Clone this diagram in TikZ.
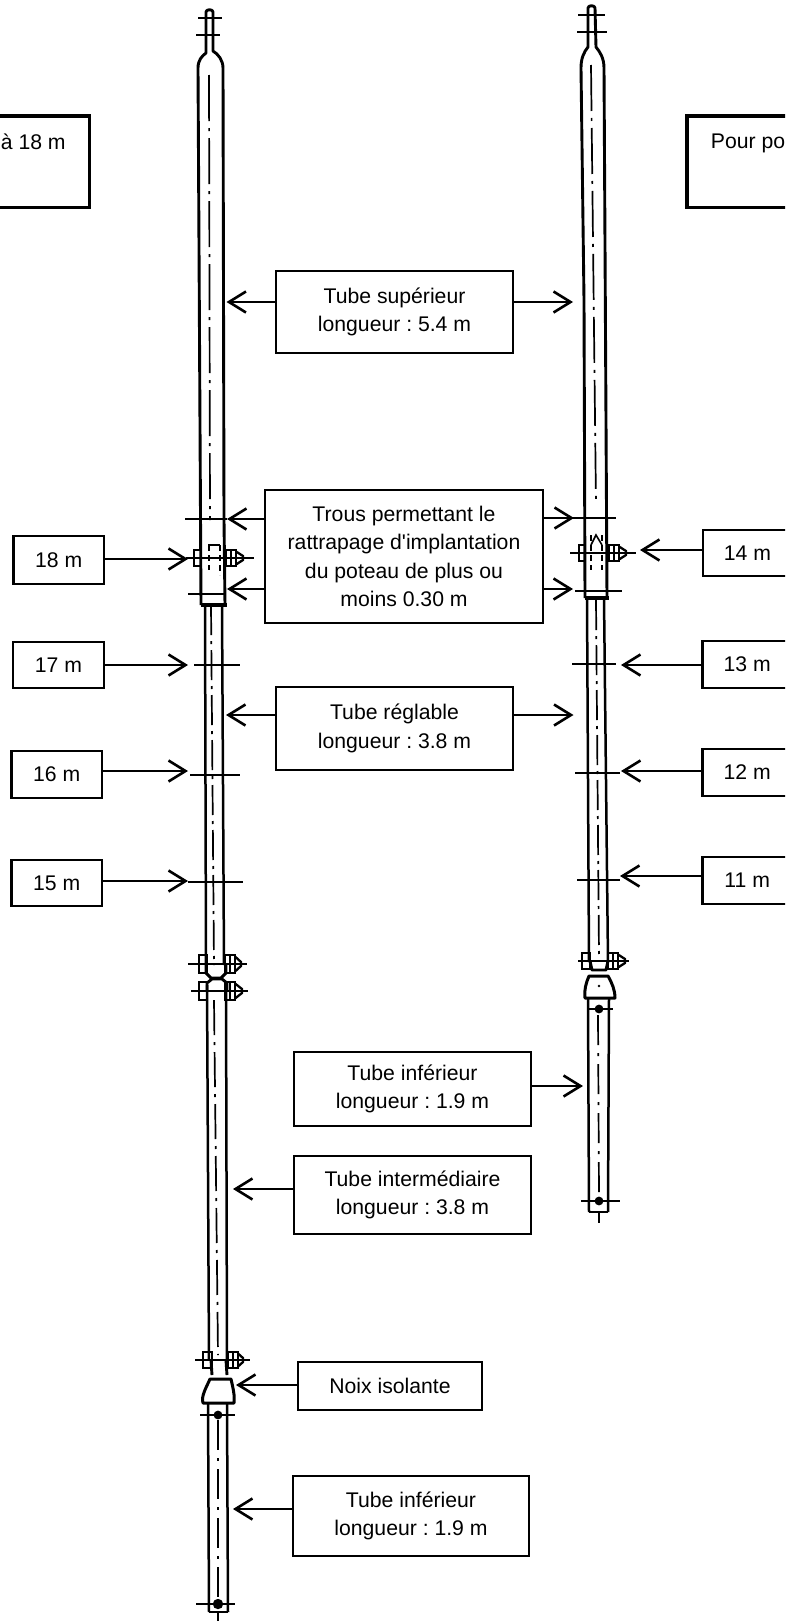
\documentclass[tikz,border=0pt]{standalone}
\usepackage{fontspec}
\setmainfont{Liberation Sans}
\newfontfamily\lblfont{Liberation Sans}
\usetikzlibrary{arrows.meta}
\tikzset{
  lbl/.style={draw=black,line width=2.6pt,fill=white,inner sep=0pt,align=center,font=\lblfont\fontsize{21.2}{28.5}\selectfont\frenchspacing},
  heavybox/.style={lbl,line width=3.2pt},
  conn/.style={line width=2.8pt,-{Straight Barb[length=17pt,width=21pt,line width=2.6pt]}},
  wall/.style={line width=2.9pt,line join=round},
  thin wall/.style={line width=2.5pt,line join=round},
  axis/.style={line width=1.7pt,dash pattern=on 46pt off 7pt on 3pt off 7pt},
  bar/.style={line width=1.9pt},
  nut/.style={line width=2.3pt},
  hole/.style={fill=black,draw=none}
}
\newcommand{\mybox}[7][lbl]{% style, name, x1,y1,x2,y2, text
  \node[#1,minimum width={(#5)-(#3)},minimum height={(#6)-(#4)}] (#2) at ({((#3)+(#5))/2},{((#4)+(#6))/2}) {#7};}
\newcommand{\clampbolt}[9]{% y, barL, barR, nutL1, nutL2, nutR1, nutR2, tip, half height
  \draw[bar] (#2,#1) -- (#3,#1);
  \draw[nut] (#4,{#1-#9}) rectangle (#5,{#1+#9});
  \draw[nut] (#6,{#1-#9}) rectangle (#7,{#1+#9});
  \draw[nut] (#7,{#1-#9+1.5}) -- (#8,{#1-2}) -- (#8,{#1+2}) -- (#7,{#1+#9-1.5});
  \draw[nut] ({(#6+#7)/2},{#1-#9}) -- ({(#6+#7)/2},{#1+#9});
}
\begin{document}
\begin{tikzpicture}[x=1pt,y=-1pt]
\useasboundingbox (0,0) rectangle (785,1622);
\clip (0,0) rectangle (785,1622);
\fill[white] (0,0) rectangle (785,1622);

% ---------- left pole ----------
% top stem and upper tube
\draw[wall] (201,605) -- (198,68) .. controls (198,60) and (202,56) .. (206,53) -- (206,12) .. controls (206,9) and (213,9) .. (213,12) -- (213,51) .. controls (218,54) and (223,60) .. (223,68) -- (224,520);
\draw[wall] (224,520) -- (225,605);
\draw[bar,line width=2.2pt] (198,18) -- (222,18);
\draw[bar,line width=2.2pt] (196,35) -- (220,35);
\draw[axis] (209,75) -- (210,520);
% top collar
\draw[wall,line width=3.2pt] (201,605) -- (227,605);
\draw[bar] (185,519) -- (227,519);
\draw[bar] (188,594) -- (225,594);
\draw[line width=1.6pt,dash pattern=on 6pt off 4pt] (209,545) -- (209,570);
\draw[line width=1.6pt,dash pattern=on 6pt off 4pt] (220,545) -- (220,575);
\draw[line width=1.6pt] (208,545) -- (220,545);
\clampbolt{558}{186}{254}{194}{201}{226}{236}{243}{8}
% adjustable tube
\draw[thin wall] (205,605) -- (206,965);
\draw[thin wall] (222,605) -- (224,965);
\draw[axis,dash pattern=on 30pt off 6pt on 3pt off 6pt] (211,605) -- (214,965);
\draw[bar] (194,665) -- (240,665);
\draw[bar] (190,775) -- (240,775);
\draw[bar] (188,882) -- (243,882);
% clamps
\clampbolt{964}{188}{247}{199}{207}{225}{235}{241}{9}
\clampbolt{991}{191}{248}{199}{207}{225}{235}{242}{9}
\draw[wall] (206,965) -- (206,973) -- (211,978) -- (221,978) -- (226,973) -- (226,965);
\draw[wall] (207,990) -- (207,983) -- (212,979) -- (222,979) -- (227,983) -- (227,990);
% intermediate tube
\draw[thin wall] (207,985) -- (209,1360);
\draw[thin wall] (226,985) -- (227,1360);
\draw[axis,dash pattern=on 35pt off 7pt on 3pt off 7pt] (214,1000) -- (218,1355);
\clampbolt{1360}{195}{250}{203}{212}{228}{238}{243}{8}
% insulator
\draw[wall] (211,1360) -- (212,1375);
\draw[wall] (226,1360) -- (227,1375);
\draw[wall,line width=3pt] (210,1379) -- (231,1379) .. controls (233,1388) and (235,1396) .. (234,1403) -- (203,1403) .. controls (201,1396) and (206,1388) .. (210,1379) -- cycle;
% lower tube
\draw[thin wall] (208,1404) -- (209,1612);
\draw[thin wall] (227,1404) -- (228,1612);
\draw[thin wall] (209,1612) -- (228,1612);
\draw[bar] (200,1415) -- (235,1415);
\fill[hole] (218,1415) circle (4.4);
\draw[axis,dash pattern=on 30pt off 8pt on 3pt off 8pt] (218,1420) -- (218,1600);
\draw[bar,line width=2.2pt] (196,1604) -- (235,1604);
\fill[hole] (218,1604) circle (5.2);
\draw[bar] (218,1612) -- (218,1621);

% ---------- right pole ----------
\draw[wall] (585,598) -- (584,300) -- (581,68) .. controls (581,58) and (584,52) .. (588,47) -- (588,8) .. controls (588,5) and (595,5) .. (595,8) -- (596,47) .. controls (600,52) and (604,58) .. (604,68) -- (607,598);
\draw[bar,line width=2.2pt] (578,15) -- (605,15);
\draw[bar,line width=2.2pt] (577,32) -- (607,32);
\draw[axis] (591,65) -- (596,505);
\draw[wall,line width=3.2pt] (585,598) -- (609,598);
\draw[bar] (573,518) -- (616,518);
\draw[bar] (575,591) -- (622,591);
\draw[line width=1.6pt,dash pattern=on 6pt off 4pt] (591,535) -- (591,570);
\draw[line width=1.6pt,dash pattern=on 6pt off 4pt] (602,535) -- (602,570);
\draw[line width=1.6pt] (591,545) -- (596,535) -- (602,545);
\clampbolt{553}{570}{636}{579}{585}{609}{619}{626}{8}
% adjustable tube
\draw[thin wall] (587,598) -- (589,962);
\draw[thin wall] (604,598) -- (608,962);
\draw[axis,dash pattern=on 30pt off 6pt on 3pt off 6pt] (596,600) -- (599,955);
\draw[bar] (572,664) -- (616,664);
\draw[bar] (575,773) -- (620,773);
\draw[bar] (577,880) -- (620,880);
\clampbolt{961}{578}{629}{582}{590}{608}{618}{625}{8}
\draw[wall] (590,961) -- (592,970) -- (606,970) -- (608,961);
% insulator
\draw[wall,line width=3pt] (589,976) -- (608,976) .. controls (612,983) and (615,990) .. (615,998) -- (585,998) .. controls (584,990) and (586,983) .. (589,976) -- cycle;
\fill[hole] (599,986) circle (1.4);
% lower tube
\draw[thin wall] (588,999) -- (589,1212);
\draw[thin wall] (609,999) -- (608,1212);
\draw[wall] (589,1212) -- (608,1212);
\draw[bar,line width=2.2pt] (587,1009) -- (613,1009);
\fill[hole] (599,1009) circle (4.4);
\draw[axis,dash pattern=on 30pt off 8pt on 3pt off 8pt] (598,1015) -- (599,1195);
\draw[bar,line width=2.2pt] (581,1201) -- (620,1201);
\fill[hole] (599,1201) circle (4.4);
\draw[bar] (599,1212) -- (599,1223);

% ---------- boxes ----------
\mybox[heavybox]{leftnote}{-23}{116}{89.5}{207.5}{à 18 m\\[4pt]\strut}
\mybox[heavybox]{rightnote}{687}{116}{809}{207.5}{Pour po\\[4pt]\strut}
\mybox{sup}{276}{271}{513}{353}{Tube supérieur\\longueur : 5.4 m}
\mybox{trous}{265}{490}{543}{623}{Trous permettant le\\rattrapage d'implantation\\du poteau de plus ou\\moins 0.30 m}
\mybox{regl}{276}{687}{513}{770}{Tube réglable\\longueur : 3.8 m}
\mybox{infr}{294}{1052}{531}{1126}{Tube inférieur\\longueur : 1.9 m}
\mybox{inter}{294}{1156}{531}{1234}{Tube intermédiaire\\longueur : 3.8 m}
\mybox{noix}{298}{1362}{482}{1410}{Noix isolante}
\mybox{infl}{293}{1476}{529}{1556}{Tube inférieur\\longueur : 1.9 m}
\mybox{m18}{13.5}{536}{104}{584}{18 m}
\mybox{m17}{13}{642}{104}{688}{17 m}
\mybox{m16}{11.5}{751}{102}{798}{16 m}
\mybox{m15}{11.5}{860}{102}{906}{15 m}
\mybox{m14}{703}{530}{792}{576}{14 m}
\mybox{m13}{702.5}{641}{792}{688}{13 m}
\mybox{m12}{702.5}{749}{792}{796}{12 m}
\mybox{m11}{702.5}{857}{792}{904}{11 m}

% ---------- arrow tips ----------
\coordinate (supL) at (226.5,302);
\coordinate (supR) at (573,302);
\coordinate (trA) at (227,519);
\coordinate (trB) at (227,589);
\coordinate (trC) at (574,518);
\coordinate (trD) at (573,589);
\coordinate (rgL) at (226,715);
\coordinate (rgR) at (573.5,715);
\coordinate (ifR) at (583,1086);
\coordinate (itL) at (233,1189);
\coordinate (nxL) at (236,1385);
\coordinate (ifL) at (233,1509);
\coordinate (a18) at (188,559);
\coordinate (a17) at (188,665);
\coordinate (a16) at (188,771);
\coordinate (a15) at (188,881);
\coordinate (a14) at (640,550);
\coordinate (a13) at (621,665);
\coordinate (a12) at (621,771);
\coordinate (a11) at (620,876);

\draw[conn] (sup.west |- supL) -- (supL);
\draw[conn] (sup.east |- supR) -- (supR);
\draw[conn] (trous.west |- trA) -- (trA);
\draw[conn] (trous.west |- trB) -- (trB);
\draw[conn] (trous.east |- trC) -- (trC);
\draw[conn] (trous.east |- trD) -- (trD);
\draw[conn] (regl.west |- rgL) -- (rgL);
\draw[conn] (regl.east |- rgR) -- (rgR);
\draw[conn] (infr.east |- ifR) -- (ifR);
\draw[conn] (inter.west |- itL) -- (itL);
\draw[conn] (noix.west |- nxL) -- (nxL);
\draw[conn] (infl.west |- ifL) -- (ifL);
\draw[conn] (m18.east |- a18) -- (a18);
\draw[conn] (m17.east |- a17) -- (a17);
\draw[conn] (m16.east |- a16) -- (a16);
\draw[conn] (m15.east |- a15) -- (a15);
\draw[conn] (m14.west |- a14) -- (a14);
\draw[conn] (m13.west |- a13) -- (a13);
\draw[conn] (m12.west |- a12) -- (a12);
\draw[conn] (m11.west |- a11) -- (a11);
\end{tikzpicture}
\end{document}
